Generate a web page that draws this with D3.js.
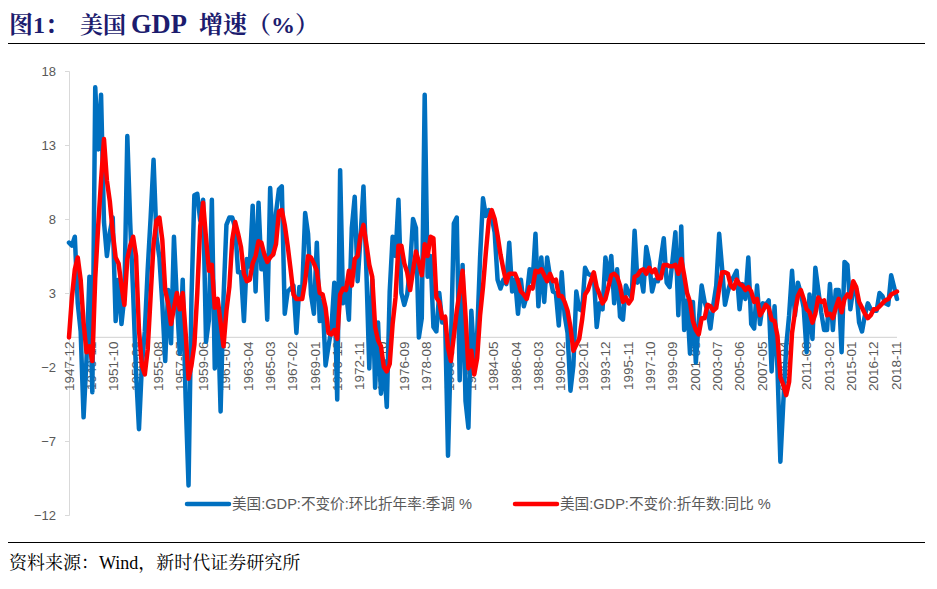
<!DOCTYPE html>
<html>
<head>
<meta charset="utf-8">
<script src="https://cdn.jsdelivr.net/npm/d3@7"></script>
<style>
  html, body { margin: 0; padding: 0; background: #fff; }
  svg { display: block; }
</style>
</head>
<body>
<svg id="chart" width="937" height="589"></svg>
<script>
// ---------------- DATA ----------------
const firstQuarter = "1947-12";   // first data point (quarter-end month)
const axisEnd = "2018-12";

// 美国:GDP:不变价:环比折年率:季调 % (quarterly, 1947Q4 .. 2018Q4)
const qoqSaar = [
  6.4,
  6.2, 6.8, 2.3, 0.4,
  -5.4, -1.5, 4.1, -3.7,
  16.9, 12.7, 16.4, 7.8,
  5.5, 7.1, 8.1, 1.1,
  3.9, 0.9, 2.8, 13.6,
  7.7, 3.0, -2.4, -6.2,
  -1.9, 0.4, 4.6, 8.1,
  12.0, 6.8, 5.4, 2.3,
  -1.6, 3.2, -0.4, 6.8,
  2.5, -1.1, 3.9, -4.1,
  -10.0, 2.6, 9.6, 9.7,
  7.9, 9.3, -0.3, 1.2,
  9.3, -2.1, 2.0, -5.0,
  2.7, 7.6, 8.1, 8.1,
  7.4, 4.4, 4.4, 1.1,
  5.3, 4.8, 8.9, 3.1,
  9.1, 4.6, 5.6, 1.2,
  10.1, 5.6, 8.4, 10.0,
  10.2, 1.6, 3.1, 3.3,
  3.5, 0.3, 3.4, 3.2,
  8.4, 7.0, 2.9, 1.6,
  6.4, 1.1, 2.5, -1.9,
  -0.6, 0.6, 3.7, -4.2,
  11.3, 2.3, 3.2, 1.2,
  7.4, 9.5, 3.8, 6.8,
  10.2, 4.5, -2.1, 3.9,
  -3.4, 1.0, -3.8, -1.6,
  -4.7, 3.1, 6.8, 5.5,
  9.3, 3.0, 2.2, 2.9,
  4.8, 8.0, 7.4, 0.0,
  1.3, 16.4, 4.1, 5.5,
  0.7, 0.4, 3.0, 1.0,
  1.3, -8.0, -0.5, 7.7,
  8.1, -2.9, 4.9, -4.3,
  -6.1, 1.8, -1.5, 0.2,
  5.4, 9.4, 8.2, 8.6,
  8.1, 7.1, 3.9, 3.3,
  3.9, 3.6, 6.4, 3.1,
  3.9, 1.6, 3.9, 2.1,
  2.8, 4.6, 3.7, 7.0,
  2.1, 5.4, 2.4, 5.4,
  4.1, 3.1, 3.0, 0.8,
  4.4, 1.5, 0.3, -3.6,
  -1.9, 3.1, 1.9, 1.8,
  4.7, 4.3, 4.2, 4.3,
  0.7, 2.3, 1.9, 5.4,
  3.9, 5.5, 2.3, 4.6,
  1.4, 1.2, 3.5, 3.0,
  2.7, 7.2, 3.7, 4.3,
  3.1, 6.1, 5.1, 3.1,
  3.9, 3.8, 5.3, 6.7,
  3.7, 3.4, 5.2, 7.1,
  1.5, 7.5, 0.5, 2.5,
  -1.1, 2.4, -1.7, 1.1,
  3.5, 2.4, 1.8, 0.6,
  2.2, 3.5, 7.0, 4.7,
  2.2, 3.1, 3.8, 4.1,
  4.5, 1.9, 3.6, 2.6,
  5.4, 0.9, 0.6, 3.5,
  0.9, 2.3, 2.2, 2.5,
  -2.3, 2.1, -2.1, -8.4,
  -4.4, -0.6, 1.5, 4.5,
  1.5, 3.7, 3.0, 2.0,
  -1.0, 2.9, -0.1, 4.7,
  3.2, 1.7, 0.5, 0.5,
  3.6, 0.5, 3.2, 3.2,
  -1.0, 5.1, 4.9, 1.9,
  3.3, 3.3, 1.0, 0.4,
  1.5, 2.3, 1.9, 1.8,
  1.8, 3.0, 2.8, 2.3,
  2.2, 4.2, 3.4, 2.6
];

// 美国:GDP:不变价:折年数:同比 % (quarterly, 1947Q4 .. 2018Q4)
const yoy = [
  0.0,
  2.7, 4.6, 5.4, 3.9,
  1.0, -1.0, -0.6, -1.6,
  4.0, 7.5, 10.6, 13.4,
  10.6, 9.2, 7.1, 5.4,
  5.0, 3.5, 2.2, 5.3,
  6.2, 6.8, 5.5, 0.5,
  -1.9, -2.5, -0.8, 2.8,
  6.3, 7.9, 8.1, 6.6,
  3.2, 2.3, 0.9, 2.0,
  3.0, 1.9, 3.0, 0.3,
  -2.8, -1.9, -0.5, 3.0,
  7.5, 9.1, 6.7, 4.5,
  4.9, 2.0, 2.6, 1.0,
  -0.6, 1.8, 3.4, 6.6,
  7.8, 7.0, 6.1, 4.3,
  3.8, 3.9, 5.0, 5.5,
  6.5, 6.4, 5.6, 5.1,
  5.4, 5.6, 6.3, 8.5,
  8.6, 7.6, 6.2, 4.6,
  2.9, 2.6, 2.6, 2.6,
  3.8, 5.5, 5.4, 5.0,
  4.5, 3.0, 2.9, 2.0,
  0.3, 0.2, 0.5, -0.1,
  2.9, 3.3, 3.2, 4.5,
  3.5, 5.3, 5.5, 6.9,
  7.6, 6.3, 4.9, 4.1,
  0.7, -0.2, -0.6, -2.0,
  -2.3, -1.8, 0.9, 2.7,
  6.2, 6.2, 5.0, 4.4,
  3.2, 4.5, 5.8, 5.1,
  4.2, 6.3, 5.5, 6.8,
  6.7, 2.7, 2.4, 1.3,
  1.4, -0.7, -1.6, 0.1,
  1.8, 3.1, 4.5, 1.5,
  -2.1, -0.9, -2.5, -1.4,
  1.5, 3.4, 5.8, 7.9,
  8.6, 8.0, 6.9, 5.6,
  4.6, 3.7, 4.3, 4.3,
  4.3, 3.8, 3.1, 2.9,
  2.6, 3.4, 3.3, 4.5,
  4.4, 4.6, 4.2, 3.8,
  4.3, 3.8, 3.9, 2.8,
  2.8, 2.4, 1.8, 0.7,
  -0.9, -0.5, -0.1, 1.2,
  2.9, 3.2, 3.8, 4.4,
  3.4, 2.9, 2.3, 2.6,
  3.4, 4.2, 4.3, 4.1,
  3.5, 2.4, 2.7, 2.3,
  2.6, 4.1, 4.2, 4.5,
  4.6, 4.3, 4.7, 4.4,
  4.6, 4.0, 4.0, 4.9,
  4.9, 4.8, 4.8, 4.9,
  4.3, 5.3, 4.2, 3.0,
  2.4, 1.1, 0.5, 0.2,
  1.3, 1.3, 2.2, 2.1,
  1.8, 2.0, 3.3, 4.4,
  4.4, 4.3, 3.5, 3.3,
  3.9, 3.6, 3.5, 3.2,
  3.4, 3.1, 2.4, 2.6,
  1.5, 1.8, 2.2, 2.0,
  1.2, 1.1, 0.1, -2.7,
  -3.2, -3.9, -3.0, 0.3,
  1.7, 2.8, 3.2, 2.6,
  1.9, 1.7, 1.0, 1.6,
  2.7, 2.4, 2.5, 1.5,
  1.6, 1.3, 2.0, 2.6,
  1.7, 2.6, 2.9, 2.7,
  3.8, 3.4, 2.4, 2.0,
  1.6, 1.3, 1.5, 1.9,
  1.9, 2.1, 2.3, 2.5,
  2.6, 2.9, 3.0, 3.1
];

const xTickLabels = [
  "1947-12","1949-11","1951-10","1953-09","1955-08","1957-07","1959-06","1961-05",
  "1963-04","1965-03","1967-02","1969-01","1970-12","1972-11","1974-10","1976-09",
  "1978-08","1980-07","1982-06","1984-05","1986-04","1988-03","1990-02","1992-01",
  "1993-12","1995-11","1997-10","1999-09","2001-08","2003-07","2005-06","2007-05",
  "2009-04","2011-03","2013-02","2015-01","2016-12","2018-11"
];
const yTicks = [-12, -7, -2, 3, 8, 13, 18];

const seriesNames = ["美国:GDP:不变价:环比折年率:季调 %", "美国:GDP:不变价:折年数:同比 %"];
const titleParts = ["图1：", "美国", "GDP", "增速（%）"];
const sourceText = "资料来源：Wind，新时代证券研究所";

// ---------------- HELPERS ----------------
const monthIndex = s => { const [y, m] = s.split("-").map(Number); return y * 12 + m; };
const base = monthIndex(firstQuarter);
const categories = d3.range(qoqSaar.length).map(i => i * 3);

// ---------------- DRAW ----------------
const svg = d3.select("#chart");
svg.append("rect").attr("width", 937).attr("height", 589).attr("fill", "#fff");

const x = d3.scaleLinear().domain([0, monthIndex(axisEnd) - base]).range([69, 897]);
const y = d3.scaleLinear().domain([-12, 18]).range([515, 71]);

const labelFont = "'Liberation Sans', Arial, 'Noto Sans CJK SC', sans-serif";
const serifFont = "'Liberation Serif', 'Noto Serif CJK SC', 'Noto Sans CJK SC', serif";
const grey = "#595959";

// Title
const title = svg.append("text")
  .attr("y", 33)
  .attr("fill", "#1c1c6e")
  .attr("font-weight", "bold")
  .attr("font-family", serifFont);
const titleX = [9, 80, 131, 199];
const titleSize = [24, 23, 26.5, 24];
titleParts.forEach((t, i) => title.append("tspan").attr("x", titleX[i]).attr("font-size", titleSize[i]).text(t));

svg.append("line").attr("x1", 8).attr("x2", 925).attr("y1", 43.5).attr("y2", 43.5)
  .attr("stroke", "#000").attr("stroke-width", 1);
svg.append("line").attr("x1", 8).attr("x2", 925).attr("y1", 542.5).attr("y2", 542.5)
  .attr("stroke", "#000").attr("stroke-width", 1);

svg.append("text").attr("x", 9).attr("y", 569)
  .attr("font-size", 18).attr("fill", "#000")
  .attr("font-family", serifFont)
  .text(sourceText);

// Y axis
const yAxis = d3.axisLeft(y).tickValues(yTicks).tickSize(4).tickPadding(9);
const gy = svg.append("g").attr("transform", "translate(69,0)").call(yAxis);
gy.select(".domain").attr("stroke", "#d9d9d9");
gy.selectAll(".tick line").attr("stroke", "#d9d9d9");
gy.selectAll(".tick text").attr("fill", grey).attr("font-size", 13).attr("font-family", labelFont);

// Zero (category) axis line
svg.append("line").attr("x1", x(0)).attr("x2", x.range()[1])
  .attr("y1", y(0)).attr("y2", y(0)).attr("stroke", "#d9d9d9").attr("stroke-width", 1.3);

// X labels (rotated)
svg.append("g").selectAll("text").data(xTickLabels).join("text")
  .attr("transform", d => `translate(${x(monthIndex(d) - base)},${y(0) + 4}) rotate(-90)`)
  .attr("text-anchor", "end")
  .attr("dy", "0.35em")
  .attr("fill", grey).attr("font-size", 13.5).attr("font-family", labelFont)
  .text(d => d);

// Lines
const lineGen = d3.line().x((d, i) => x(categories[i])).y(d => y(d));
svg.append("path").datum(qoqSaar).attr("d", lineGen)
  .attr("fill", "none").attr("stroke", "#0070C0").attr("stroke-width", 4.5)
  .attr("stroke-linejoin", "round").attr("stroke-linecap", "round");
svg.append("path").datum(yoy).attr("d", lineGen)
  .attr("fill", "none").attr("stroke", "#FF0000").attr("stroke-width", 4.5)
  .attr("stroke-linejoin", "round").attr("stroke-linecap", "round");

// Legend
const legendColors = ["#0070C0", "#FF0000"];
const legendX = [187, 515];
const lg = svg.append("g").selectAll("g").data(seriesNames).join("g")
  .attr("transform", (d, i) => `translate(${legendX[i]},504)`);
lg.append("line").attr("x1", 0).attr("x2", 42).attr("y1", 0).attr("y2", 0)
  .attr("stroke", (d, i) => legendColors[i]).attr("stroke-width", 4.5).attr("stroke-linecap", "round");
lg.append("text").attr("x", 45).attr("dy", "0.35em")
  .attr("fill", grey).attr("font-size", 14.6).attr("font-family", labelFont)
  .text(d => d);
</script>
</body>
</html>
